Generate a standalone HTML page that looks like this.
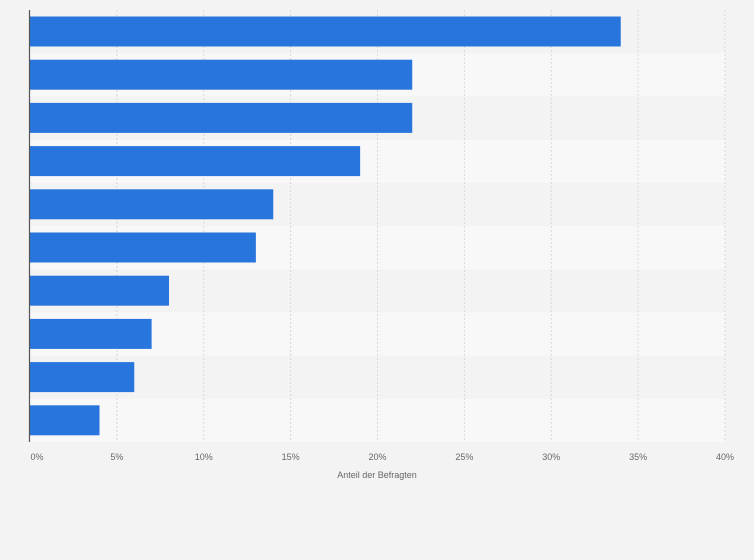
<!DOCTYPE html>
<html><head><meta charset="utf-8"><style>
body{margin:0;background:#f3f3f3;font-family:"Liberation Sans",sans-serif;}
svg{display:block}
</style></head><body>
<svg id="chart" width="754" height="560" xmlns="http://www.w3.org/2000/svg">
<rect width="754" height="560" fill="#f3f3f3"/>
<g id="bands"></g><g id="grid"></g><g id="bars"></g><g id="ticks"></g>
<line x1="29.5" y1="10" x2="29.5" y2="442" stroke="#555" stroke-width="1.2"/>
<text x="377" y="478" font-size="9" fill="#666" text-anchor="middle">Anteil der Befragten</text>
</svg>
<script>
const categories=["c1","c2","c3","c4","c5","c6","c7","c8","c9","c10"];
const values=[34,22,22,19,14,13,8,7,6,4];
const tickValues=[0,5,10,15,20,25,30,35,40];
const tickLabels=["0%","5%","10%","15%","20%","25%","30%","35%","40%"];
const NS="http://www.w3.org/2000/svg";
const x0=30,x1=725,y0=10,y1=442,xmax=40;
const xs=v=>x0+(v/xmax)*(x1-x0);
const step=(y1-y0)/categories.length;
const bands=document.getElementById('bands'),grid=document.getElementById('grid'),bars=document.getElementById('bars'),ticks=document.getElementById('ticks');
function mk(t,a){const e=document.createElementNS(NS,t);for(const k in a)e.setAttribute(k,a[k]);return e;}
categories.forEach((c,i)=>{
  const b=mk('rect',{x:x0,y:y0+i*step,width:x1-x0,height:step,fill:i%2?'#f8f8f8':'#f3f3f3'});
  
  
  bands.appendChild(b);
});
tickValues.forEach((v,i)=>{
  if(v>0){const g=mk('line',{x1:xs(v),x2:xs(v),y1:y0,y2:y1,stroke:'#d8d8d8','stroke-dasharray':'2,2'});
  
  
  grid.appendChild(g);}
  const t=mk('text',{x:xs(v)+(v===0?7:0),y:460,'font-size':9,fill:'#666','text-anchor':'middle'});
  t.textContent=tickLabels[i];
  
  
  ticks.appendChild(t);
});
values.forEach((v,i)=>{
  const r=mk('rect',{x:x0,y:y0+i*step+6.5,width:xs(v)-x0,height:30,fill:'#2876dd'});
  
  
  bars.appendChild(r);
});
</script>
</body></html>
